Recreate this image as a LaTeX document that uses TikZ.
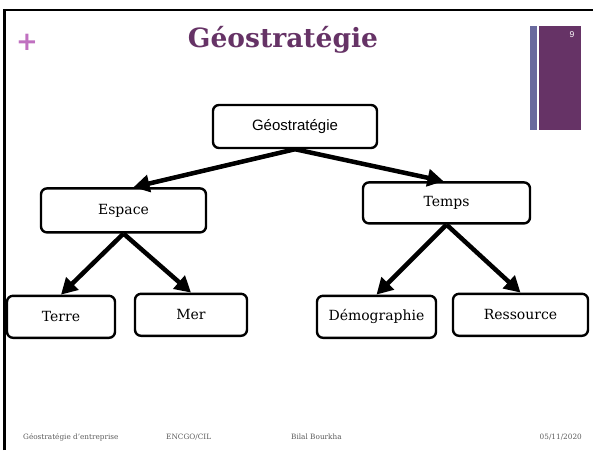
\documentclass[tikz,border=0pt]{standalone}
\usepackage{fontspec}
\setmainfont{DejaVu Serif}
\newfontfamily\boxsans{Liberation Sans}
\newfontfamily\plusfont{DejaVu Sans}
\usetikzlibrary{arrows.meta, positioning, calc}
\definecolor{geoplum}{RGB}{102,51,102}
\definecolor{geopink}{RGB}{192,112,192}
\definecolor{geoslate}{RGB}{106,106,158}
\definecolor{geogrey}{RGB}{90,90,90}

\begin{document}
\begin{tikzpicture}[x=1pt, y=1pt,
    box/.style={rectangle, rounded corners=6pt, draw=black, line width=2.4pt, fill=white, text=black, inner sep=0pt, minimum height=42pt, font=\fontsize{14}{16}\selectfont},
    link/.style={line width=4.5pt, -{Triangle[length=16pt,width=17pt]}},
    foot/.style={text=geogrey, inner sep=0pt, font=\fontsize{7.3}{9}\selectfont}]
    \useasboundingbox (0,0) rectangle (593,-450);
    \draw[line width=2.5pt] (4.5,-450) -- (4.5,-10) -- (593,-10);%slide edge
    \node (plus) [text=geopink, inner sep=0pt, font=\plusfont\bfseries\fontsize{26}{28}\selectfont] at (27,-42) {+};%corner mark
    \node (title) [text=geoplum, inner sep=0pt, anchor=base, font=\bfseries\fontsize{26.5}{30}\selectfont] at (283,-47) {Géostratégie};%slide title
    \fill[geoslate] (530,-26) rectangle (537,-130);%thin bar
    \fill[geoplum] (539,-26) rectangle (581,-130);%wide bar
    \node (page) [text=white, inner sep=0pt, font=\boxsans\fontsize{8.5}{9}\selectfont] at (572,-35) {9};%page number
    \node (root) [box, minimum width=164pt, minimum height=43pt, font=\boxsans\fontsize{15}{17}\selectfont] at (295,-126.5) {Géostratégie};%top box
    \node (espace) [box, minimum width=165pt, minimum height=44pt, below=38pt of root, xshift=-171.5pt] {Espace};%left branch
    \node (temps) [box, minimum width=167pt, minimum height=41pt, below=32pt of root, xshift=151.5pt] {Temps};%right branch
    \node (terre) [box, minimum width=108pt, below=61pt of espace, xshift=-62.5pt] {Terre};
    \node (mer) [box, minimum width=112pt, below=59pt of espace, xshift=67.5pt] {Mer};
    \node (demo) [box, minimum width=119pt, below=70pt of temps, xshift=-70pt] {Démographie};
    \node (ress) [box, minimum width=135pt, below=68pt of temps, xshift=74pt] {Ressource};
    \draw[link] (root.south) to ($(espace.north)+(10pt,0)$);%root to Espace
    \draw[link] (root.south) to ($(temps.north)+(-3pt,0)$);%root to Temps
    \draw[link] (espace.south) to (terre.north);
    \draw[link] (espace.south) to (mer.north);
    \draw[link] (temps.south) to (demo.north);
    \draw[link] (temps.south) to (ress.north);
    \node (f1) [foot, anchor=base west] at (23,-439) {Géostratégie d'entreprise};%footer
    \node (f2) [foot, anchor=base west] at (166,-439) {ENCGO/CIL};
    \node (f3) [foot, anchor=base west] at (291,-439) {Bilal Bourkha};
    \node (f4) [foot, anchor=base east] at (582,-439) {05/11/2020};
\end{tikzpicture}
\end{document}
